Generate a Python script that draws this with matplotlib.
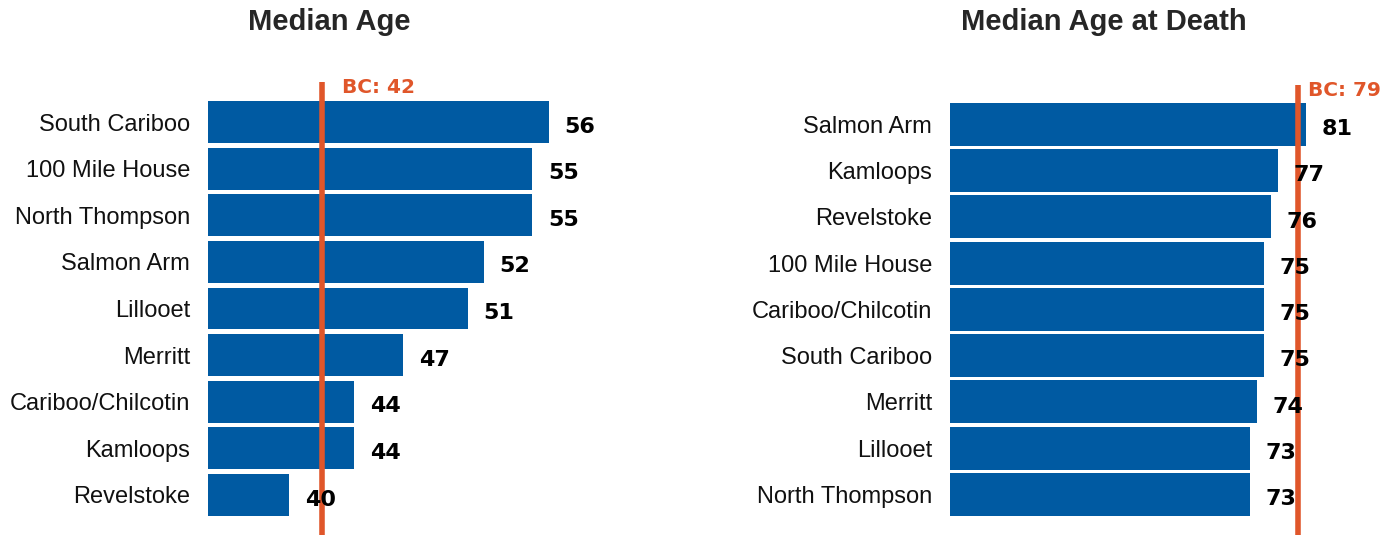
import matplotlib.pyplot as plt

# left chart data
age_places = ['South Cariboo', '100 Mile House', 'North Thompson', 'Salmon Arm',
              'Lillooet', 'Merritt', 'Cariboo/Chilcotin', 'Kamloops', 'Revelstoke']
age_values = [56, 55, 55, 52, 51, 47, 44, 44, 40]
age_bc = 42

# right chart data
death_places = ['Salmon Arm', 'Kamloops', 'Revelstoke', '100 Mile House',
                'Cariboo/Chilcotin', 'South Cariboo', 'Merritt', 'Lillooet', 'North Thompson']
death_values = [81, 77, 76, 75, 75, 75, 74, 73, 73]
death_bc = 79.85
death_bc_label = 'BC: 79'

bar_color = '#005AA2'
line_color = '#E0562A'
W, H = 1393, 535

plt.rcParams['font.family'] = ['Liberation Sans', 'DejaVu Sans']
fig = plt.figure(figsize=(W / 100, H / 100), dpi=100)


def panel(rect, places, values, xlim, ylim, bc, bc_text, bc_dx, bar_h):
    ax = fig.add_axes(rect)
    y = list(range(len(places)))
    ax.barh(y, [v - xlim[0] for v in values], left=xlim[0], height=bar_h,
            color=bar_color)
    ax.set_xlim(xlim)
    ax.set_ylim(ylim)
    ax.set_yticks(y)
    ax.set_yticklabels(places, fontsize=17, color='#111111')
    ax.tick_params(axis='y', length=0, pad=13)
    ax.set_xticks([])
    for s in ax.spines.values():
        s.set_visible(False)
    ax.axvline(bc, color=line_color, lw=4)
    ax.annotate(bc_text, (bc, ylim[1]), xytext=(bc_dx, -4), textcoords='offset points',
                ha='left', va='center', fontsize=14.5, fontweight='bold',
                color=line_color, family='DejaVu Sans', annotation_clip=False)
    for yi, v in zip(y, values):
        ax.annotate(str(v), (v, yi), xytext=(11.5, -3.3), textcoords='offset points',
                    ha='left', va='center', fontsize=16, fontweight='bold',
                    color='black', family='DejaVu Sans', annotation_clip=False)
    return ax


# left panel: x 208..630 px, 16.22 px per year starting at 35
panel([208 / W, 0, 422 / W, 1 - 82 / H], age_places, age_values,
      (35, 35 + 422 / 16.22), (8.86, -0.86), age_bc, 'BC: 42', 15, 0.9)

# right panel: x 950..1393 px, 7 px per year starting at 30.15
panel([950 / W, 0, 443 / W, 1 - 85 / H], death_places, death_values,
      (30.15, 30.15 + 443 / 7), (8.876, -0.854), death_bc, death_bc_label, 7, 0.93)

fig.text(329.5 / W, 1 - 22 / H, 'Median Age', ha='center', va='center',
         fontsize=21, fontweight='bold', color='#262626')
fig.text(1103.5 / W, 1 - 22 / H, 'Median Age at Death', ha='center', va='center',
         fontsize=21, fontweight='bold', color='#262626')

fig.savefig('out.png', dpi=100)
